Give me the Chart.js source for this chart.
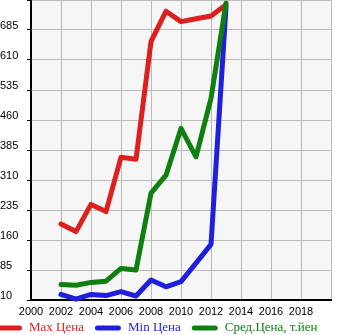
<!DOCTYPE html>
<html>
<head>
<meta charset="utf-8">
<script src="https://cdn.jsdelivr.net/npm/chart.js@4/dist/chart.umd.min.js"></script>
<style>
  html, body { margin: 0; padding: 0; background: #fff; }
</style>
</head>
<body>
<canvas id="chart" width="345" height="335"></canvas>
<script>
const years = [2002, 2003, 2004, 2005, 2006, 2007, 2008, 2009, 2010, 2011, 2012, 2013];
const maxPrice = [200, 181, 249, 231, 367, 362, 656, 732, 706, 713, 720, 748];
const minPrice = [24, 12, 24, 21, 31, 20, 60, 43, 56, 102, 149, 742];
const avgPrice = [49, 47, 54, 57, 89, 85, 277, 322, 439, 368, 514, 752];

const seriesNames = ['Max Цена', 'Min Цена', 'Сред.Цена, т.йен'];
const seriesColors = ['#dd1f1f', '#1f1fdd', '#0f800f'];

const yMin = 10, yMax = 760, yStep = 75;
const xMin = 2000, xMax = 2020, xStep = 2;

function points(values) {
    return years.map((year, i) => ({ x: year, y: values[i] }));
}

// grey plot background inside the axes
const plotBg = {
    id: 'plotBg',
    beforeDraw(chart) {
        const { ctx, chartArea: a } = chart;
        ctx.save();
        ctx.fillStyle = '#f6f6f6';
        ctx.fillRect(a.left, a.top, a.right - a.left, a.bottom - a.top);
        ctx.restore();
    }
};

// legend row under the x axis: thick rounded swatch + coloured serif text
const lineLegend = {
    id: 'lineLegend',
    afterDraw(chart) {
        const ctx = chart.ctx;
        const y = 328;
        let x = -4;
        ctx.save();
        ctx.font = '13px "Liberation Serif"';
        ctx.textBaseline = 'middle';
        chart.data.datasets.forEach(ds => {
            ctx.strokeStyle = ds.borderColor;
            ctx.lineWidth = 5;
            ctx.lineCap = 'round';
            ctx.beginPath();
            ctx.moveTo(x + 2.5, y);
            ctx.lineTo(x + 23.5, y);
            ctx.stroke();
            ctx.fillStyle = ds.borderColor;
            ctx.fillText(ds.label, x + 33, y);
            x += 33 + ctx.measureText(ds.label).width + 11;
        });
        ctx.restore();
    }
};

const datasets = [
    { label: seriesNames[0], data: points(maxPrice), borderColor: seriesColors[0], order: 2 },
    { label: seriesNames[1], data: points(minPrice), borderColor: seriesColors[1], order: 1 },
    { label: seriesNames[2], data: points(avgPrice), borderColor: seriesColors[2], order: 0 }
].map(ds => Object.assign(ds, {
    borderWidth: 5,
    pointRadius: 0,
    tension: 0,
    borderJoinStyle: 'round',
    borderCapStyle: 'round',
    clip: 6
}));

const tickFont = { family: 'Liberation Sans', size: 11 };

new Chart(document.getElementById('chart'), {
    type: 'line',
    data: { datasets: datasets },
    options: {
        responsive: false,
        devicePixelRatio: 1,
        animation: false,
        layout: { padding: { top: 0, right: 14, bottom: 0, left: 0 } },
        plugins: {
            legend: { display: false },
            tooltip: { enabled: false }
        },
        scales: {
            x: {
                type: 'linear',
                min: xMin,
                max: xMax,
                grid: { color: '#bbbbbb', lineWidth: 1, drawTicks: false },
                border: { color: '#000', width: 2 },
                ticks: {
                    stepSize: xStep,
                    autoSkip: false,
                    maxRotation: 0,
                    padding: 5,
                    color: '#000',
                    font: tickFont,
                    callback: v => (v === xMax ? '' : String(v))
                },
                afterFit(scale) {
                    scale.height = 35;
                    scale.paddingLeft = 0;
                    scale.paddingRight = 0;
                }
            },
            y: {
                min: yMin,
                max: yMax,
                grid: { color: '#bbbbbb', lineWidth: 1, tickColor: '#000', tickLength: 4 },
                border: { color: '#000', width: 2 },
                ticks: {
                    stepSize: yStep,
                    crossAlign: 'far',
                    labelOffset: -4,
                    color: '#000',
                    font: tickFont,
                    callback: v => (v === yMax ? '' : String(v))
                },
                afterFit(scale) {
                    scale.width = 31;
                    scale.paddingTop = 0;
                    scale.paddingBottom = 0;
                }
            }
        }
    },
    plugins: [plotBg, lineLegend]
});
</script>
</body>
</html>
